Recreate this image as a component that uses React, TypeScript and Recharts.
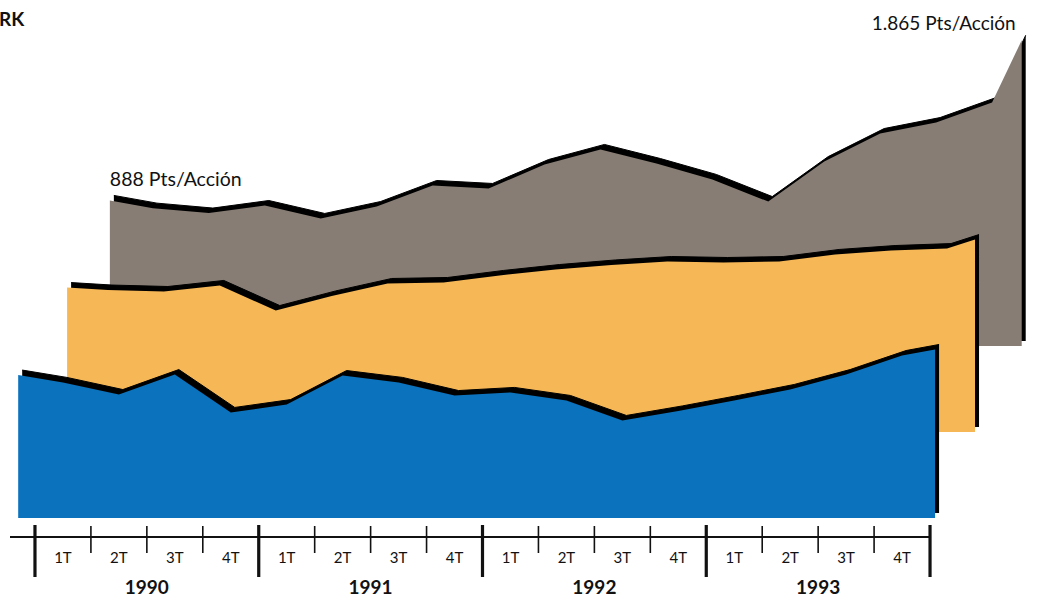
import { AreaChart, Area, XAxis, YAxis, LabelList } from 'recharts';

const years = ['1990', '1991', '1992', '1993'];
const quarterNames = ['1T', '2T', '3T', '4T'];

// one value per quarter (drawn at mid-quarter) plus the two edge values of each layer
const blueQuarterly = [827, 753, 875, 644, 692, 869, 827, 747, 766, 717, 595, 653, 717, 784, 875, 991];
const blueEdges = [872, 1028];
const blueSpan = [-0.3, 16.09];

const orangeQuarterly = [866, 857, 894, 741, 830, 906, 912, 955, 991, 1019, 1040, 1034, 1040, 1083, 1107, 1119];
const orangeEdges = [881, 1174];
const orangeSpan = [-0.23, 16.0];

const greyQuarterly = [841, 811, 857, 778, 851, 979, 961, 1107, 1199, 1113, 1016, 881, 1125, 1296, 1363, 1485];
const greyEdges = [888, 1865];
const greySpan = [-0.27, 16.03];

const PLOT_W = 951;
const PLOT_H = 340;
const AXIS_H = 80;
const QW = PLOT_W / 17;
const Y_MAX = 2074;
const DX = 45;
const DY = 86;
const FONT = "Lato, 'Open Sans', sans-serif";

const buildSeries = (quarterly: number[], edges: number[], span: number[]) => [
  { t: span[0], v: edges[0] },
  ...quarterly.map((v, i) => ({ t: i + 0.5, v })),
  { t: span[1], v: edges[1] },
];

const blueData = buildSeries(blueQuarterly, blueEdges, blueSpan);
const orangeData = buildSeries(orangeQuarterly, orangeEdges, orangeSpan);
const greyData = buildSeries(greyQuarterly, greyEdges, greySpan);

const axisTicks = Array.from({ length: quarterNames.length * years.length + 1 }, (_, i) => i);

const fmtPts = (v: number) => String(v).replace(/\B(?=(\d{3})+(?!\d))/g, '.');

const renderTick = (props: any) => {
  const { x, y, payload } = props;
  const k = payload.value as number;
  const isYear = k % 4 === 0;
  const lineY = y + 19;
  return (
    <g>
      <line x1={k === 0 ? x - 25 : x - QW} x2={x} y1={lineY} y2={lineY} stroke="#111" strokeWidth={2} />
      {isYear ? (
        <line x1={x} x2={x} y1={y + 7} y2={y + 59} stroke="#111" strokeWidth={3.2} />
      ) : (
        <line x1={x} x2={x} y1={y + 8} y2={y + 35} stroke="#111" strokeWidth={1.6} />
      )}
      {k < axisTicks.length - 1 && (
        <text x={x + QW / 2} y={y + 45} textAnchor="middle" fontSize={15} fontFamily={FONT} fill="#111">
          {quarterNames[k % 4]}
        </text>
      )}
      {isYear && k < axisTicks.length - 1 && (
        <text x={x + 2 * QW} y={y + 76} textAnchor="middle" fontSize={19} fontWeight={700} fontFamily={FONT} fill="#111">
          {years[k / 4]}
        </text>
      )}
    </g>
  );
};

const renderGreyLabel = (props: any) => {
  const { x, y, index, value } = props;
  const last = greyData.length - 1;
  if (index !== 0 && index !== last) return null;
  const txt = `${fmtPts(value)} Pts/Acción`;
  return index === 0 ? (
    <text x={x} y={y - 14} textAnchor="start" fontSize={19.5} fontFamily={FONT} fill="#111">
      {txt}
    </text>
  ) : (
    <text x={x - 6} y={y - 10} textAnchor="end" fontSize={19} fontFamily={FONT} fill="#111">
      {txt}
    </text>
  );
};

function Layer({ data, fill, left, top, withAxis = false, withLabels = false }: any) {
  return (
    <div style={{ position: 'absolute', left, top }}>
      <AreaChart
        width={PLOT_W}
        height={PLOT_H + (withAxis ? AXIS_H : 0)}
        data={data}
        margin={{ top: 0, right: 0, bottom: 0, left: 0 }}
      >
        <XAxis
          type="number"
          dataKey="t"
          domain={[-0.5, 16.5]}
          hide={!withAxis}
          height={AXIS_H}
          ticks={axisTicks}
          interval={0}
          tick={withAxis ? renderTick : false}
          axisLine={false}
          tickLine={false}
          tickSize={0}
          tickMargin={0}
        />
        <YAxis hide domain={[0, Y_MAX]} />
        <Area
          className="edge"
          type="linear"
          dataKey="v"
          fill="#000"
          fillOpacity={1}
          stroke="#000"
          strokeWidth={1}
          dot={false}
          activeDot={false}
          isAnimationActive={false}
        />
        <Area
          type="linear"
          dataKey="v"
          fill={fill}
          fillOpacity={1}
          stroke="none"
          dot={false}
          activeDot={false}
          isAnimationActive={false}
        >
          {withLabels && <LabelList dataKey="v" content={renderGreyLabel} />}
        </Area>
      </AreaChart>
    </div>
  );
}

export default function App() {
  const blueLeft = 7;
  const blueTop = 178;
  return (
    <div style={{ position: 'absolute', left: 0, top: 0, width: 1037, height: 598, background: '#fff', overflow: 'hidden' }}>
      <style>{`.edge { transform: translate(4px, -5px); }`}</style>
      <div style={{ position: 'absolute', left: -1, top: 7, fontFamily: FONT, fontWeight: 700, fontSize: 19, color: '#111' }}>
        RK
      </div>
      <Layer data={greyData} fill="#877d75" left={blueLeft + 2 * DX} top={blueTop - 2 * DY} withLabels />
      <Layer data={orangeData} fill="#f6b756" left={blueLeft + DX} top={blueTop - DY} />
      <Layer data={blueData} fill="#0b73bd" left={blueLeft} top={blueTop} withAxis />
    </div>
  );
}
